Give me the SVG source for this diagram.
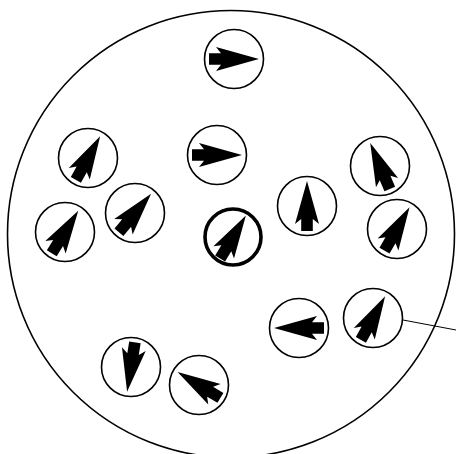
<svg xmlns="http://www.w3.org/2000/svg" width="456" height="454" viewBox="0 0 456 454">
<defs>
<style>
.c{fill:#fff;stroke:#000;stroke-width:1.6}
.t{fill:#fff;stroke:#000;stroke-width:3.6}
.a{fill:#000;stroke:none}
</style>
<path id="arr" class="a" d="M25 0 L-18 -12 L-13 -5.8 L-25 -5.8 L-25 5.8 L-13 5.8 L-18 12 Z"/>
</defs>
<rect width="456" height="454" fill="#fff"/>
<circle cx="231" cy="234" r="223.5" fill="none" stroke="#000" stroke-width="1.6"/>
<g id="connectors">
<line x1="403" y1="320" x2="456" y2="330" stroke="#000" stroke-width="1"/>
</g>
<g id="n1" transform="translate(234,59)"><circle class="c" r="29.5"/><use href="#arr"/></g>
<g id="n2" transform="translate(217,155)"><circle class="c" r="29.5"/><use href="#arr"/></g>
<g id="n3" transform="translate(88,158)"><circle class="c" r="29.5"/><use href="#arr" transform="rotate(-61)"/></g>
<g id="n4" transform="translate(135,213)"><circle class="c" r="29.5"/><use href="#arr" transform="rotate(-50)"/></g>
<g id="n5" transform="translate(65,232)"><circle class="c" r="29.5"/><use href="#arr" transform="rotate(-58)"/></g>
<g id="n6" transform="translate(233,237)"><circle class="t" r="28"/><use href="#arr" transform="rotate(-59)"/></g>
<g id="n7" transform="translate(307,206)"><circle class="c" r="29.5"/><use href="#arr" transform="rotate(-90)"/></g>
<g id="n8" transform="translate(380,166)"><circle class="c" r="29.5"/><use href="#arr" transform="rotate(-113)"/></g>
<g id="n9" transform="translate(397,229)"><circle class="c" r="29.5"/><use href="#arr" transform="rotate(-60)"/></g>
<g id="n10" transform="translate(299,328)"><circle class="c" r="29.5"/><use href="#arr" transform="rotate(180)"/></g>
<g id="n11" transform="translate(373,318)"><circle class="c" r="29.5"/><use href="#arr" transform="rotate(-61)"/></g>
<g id="n12" transform="translate(131,367)"><circle class="c" r="29.5"/><use href="#arr" transform="rotate(99)"/></g>
<g id="n13" transform="translate(199,385)"><circle class="c" r="29.5"/><use href="#arr" transform="rotate(211)"/></g>
</svg>
